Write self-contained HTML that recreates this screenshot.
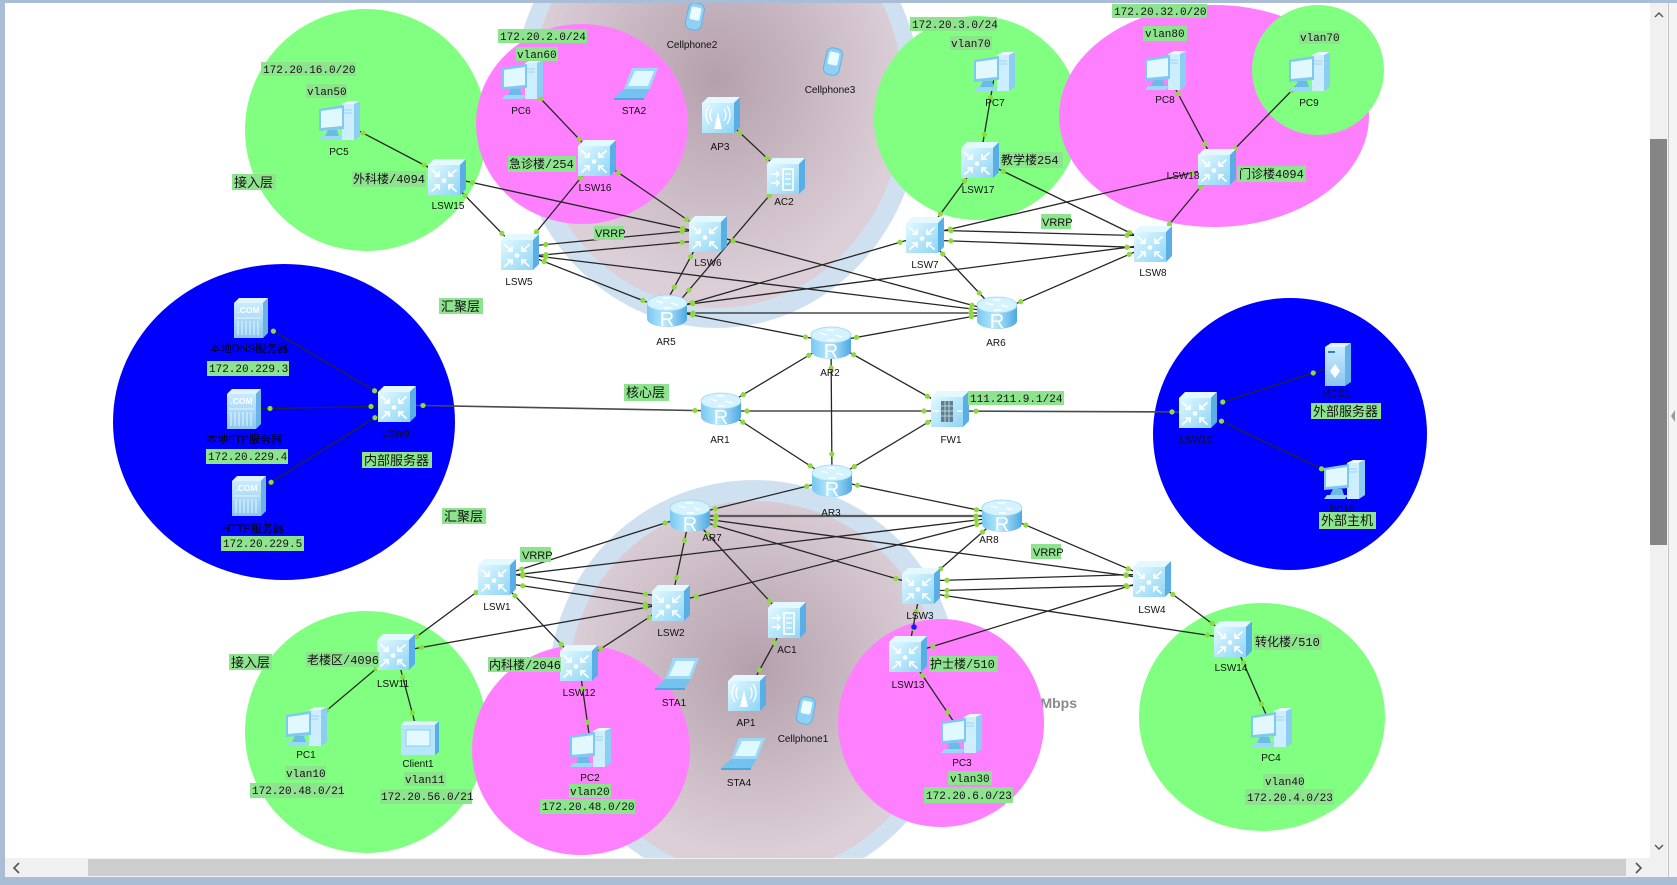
<!DOCTYPE html>
<html><head><meta charset="utf-8"><style>
html,body{margin:0;padding:0;background:#fff;width:1677px;height:885px;overflow:hidden}
svg{display:block}
.k{stroke:#262626;stroke-width:1.3;fill:none;marker-start:url(#ds);marker-end:url(#de)}
.n{font-family:"Liberation Sans",Arial,sans-serif;font-size:10px;fill:#111;text-anchor:middle}
.m{font-family:"Liberation Mono","Noto Sans CJK SC",monospace;font-size:11px;fill:#111}
.x{font-family:"Liberation Mono","Noto Sans CJK SC",monospace;font-size:12px;fill:#111}
.z{font-family:"Liberation Sans","Noto Sans CJK SC",sans-serif;font-size:13px;fill:#111}
.b{font-family:"Liberation Sans","Noto Sans CJK SC",sans-serif;font-size:11px;fill:#000;text-anchor:middle}
.v{font-family:"Liberation Sans",Arial,sans-serif;font-size:11px;fill:#111}
.g{fill:#8ee48e}
</style></head><body>
<svg width="1677" height="885" viewBox="0 0 1677 885" xmlns="http://www.w3.org/2000/svg">
<defs>
<marker id="ds" markerUnits="userSpaceOnUse" markerWidth="80" markerHeight="80" viewBox="-40 -40 80 80" refX="0" refY="0" orient="auto" overflow="visible"><circle cx="26" cy="0" r="2.6" fill="#8fd843"/></marker>
<marker id="de" markerUnits="userSpaceOnUse" markerWidth="80" markerHeight="80" viewBox="-40 -40 80 80" refX="0" refY="0" orient="auto" overflow="visible"><circle cx="-26" cy="0" r="2.6" fill="#8fd843"/></marker>
<radialGradient id="mv" cx=".5" cy=".45" r=".5"><stop offset="0" stop-color="#b4a0ac"/><stop offset="1" stop-color="#dccfd7"/></radialGradient>
<linearGradient id="gf" x1="0" y1="0" x2="1" y2="1"><stop offset="0" stop-color="#e2f9ff"/><stop offset="1" stop-color="#8ed5f5"/></linearGradient>
<linearGradient id="gr" x1="0" y1="0" x2="1" y2="0"><stop offset="0" stop-color="#78c8f1"/><stop offset=".45" stop-color="#b8e9fc"/><stop offset="1" stop-color="#4ea8e2"/></linearGradient>
<linearGradient id="gs" x1="0" y1="0" x2="0" y2="1"><stop offset="0" stop-color="#c9ebff"/><stop offset="1" stop-color="#8cc6ef"/></linearGradient>
<g id="cube">
<path d="M-19-12L-13-18H19L13-12Z" fill="#e3f9ff"/>
<path d="M13-12L19-18V12L13 18Z" fill="#5aaee6"/>
<rect x="-19" y="-12" width="32" height="30" fill="url(#gf)"/>
</g>
<g id="sw">
<use href="#cube"/>
<g stroke="#fff" stroke-width="1.8" fill="none" stroke-linecap="round">
<path d="M-15-7L-8-1M-8-5V-1H-12"/>
<path d="M9-7L2-1M2-5V-1H6"/>
<path d="M-15 14L-8 8M-8 12V8H-12"/>
<path d="M9 14L2 8M2 12V8H6"/>
</g>
<circle cx="-3" cy="3.5" r="2.3" fill="#fff"/>
</g>
<g id="rt">
<path d="M-20-7V9A20 8 0 0 0 20 9V-7Z" fill="url(#gr)"/>
<ellipse cx="0" cy="-7" rx="20" ry="8" fill="#d4f3ff" stroke="#9ad6f3" stroke-width=".8"/>
<path d="M-11-9L-4-7M11-5L4-7M-4-12H3M4-2H-3" stroke="#fff" stroke-width="1.4"/>
<text x="0" y="16" text-anchor="middle" font-family="Liberation Sans,sans-serif" font-size="20" fill="#fff">R</text>
</g>
<g id="pc">
<path d="M2-17L8-20H20L14-17Z" fill="#eafaff"/>
<path d="M14-17L20-20V15L14 19Z" fill="#8ccdf2"/>
<rect x="2" y="-17" width="12" height="36" fill="#cdeeff"/>
<path d="M4-11H12M4-8H12" stroke="#9bd3f3"/>
<path d="M-21-12L4-16V8L-21 10Z" fill="#7fc8f1"/>
<path d="M-19-10L2-13V5L-19 7Z" fill="#e2f8ff"/>
<path d="M-12 9H-3L-1 15H-15Z" fill="#6bbbe9"/>
<path d="M-18 15H3L0 19H-21Z" fill="#9dd7f6"/>
</g>
<g id="srv">
<path d="M-17-15L-12-20H17L12-15Z" fill="#dff4ff"/>
<path d="M12-15L17-20V15L12 20Z" fill="#6ab3e6"/>
<rect x="-17" y="-15" width="29" height="35" fill="url(#gs)"/>
<text x="-2.5" y="-5" text-anchor="middle" font-family="Liberation Sans,sans-serif" font-weight="bold" font-size="8.5" fill="#fff">.COM</text>
<path d="M-15 0H10M-13 3V17M-9 3V17M-5 3V17M-1 3V17M3 3V17M7 3V17" stroke="#e4f6ff" stroke-width="1"/>
</g>
<g id="ap">
<use href="#cube"/>
<path d="M-3-3L-7 14H1Z" fill="#fff"/>
<path d="M-9-6Q-13 0-9 6M-12-9Q-18 0-12 9M3-6Q7 0 3 6M6-9Q12 0 6 9" stroke="#fff" stroke-width="1.3" fill="none"/>
</g>
<g id="ac">
<use href="#cube"/>
<rect x="-3" y="-7" width="10" height="21" fill="none" stroke="#fff" stroke-width="1.6"/>
<path d="M-1-2H5M-1 3H5M-1 8H5" stroke="#fff" stroke-width="1.2"/>
<path d="M-15-2H-7M-10-5L-7-2-10 1M-15 7H-7M-10 4L-7 7-10 10" stroke="#fff" stroke-width="1.4" fill="none"/>
</g>
<g id="fw">
<use href="#cube"/>
<rect x="-9" y="-8" width="12" height="21" fill="#607f8e"/>
<path d="M-9-3H3M-9 2H3M-9 7H3M-5-8V13M-1-8V13" stroke="#cfe6ee" stroke-width=".8"/>
<path d="M-17 2H-11M7 2H12" stroke="#fff" stroke-width="1.4"/>
</g>
<g id="mcs">
<path d="M-13-18L-7-22H13L7-18Z" fill="#dff4ff"/>
<path d="M7-18L13-22V17L7 21Z" fill="#6ab3e6"/>
<rect x="-13" y="-18" width="20" height="39" fill="url(#gs)"/>
<rect x="-10" y="-14" width="7" height="2" fill="#3d7fb5"/>
<path d="M-3-1L-8 6-3 13 2 6Z" fill="#fff"/>
</g>
<g id="cli">
<path d="M-18-13L-14-17H20L16-13Z" fill="#dff4ff"/>
<path d="M16-13L20-17V14L16 17Z" fill="#5aaee6"/>
<rect x="-18" y="-13" width="34" height="30" rx="2" fill="#b7e6fb"/>
<rect x="-13" y="-8" width="24" height="16" fill="#e3f8ff" stroke="#8fd0f0"/>
</g>
<g id="lap">
<path d="M-4-16H22L14 5H-12Z" fill="#9dd8f6"/>
<path d="M-1-13H18L12 2H-8Z" fill="#e0f8ff"/>
<path d="M-12 5H14L8 14H-22Z" fill="#74c2ee"/>
<path d="M-22 14H8V16H-22Z" fill="#4fa5df"/>
</g>
<g id="cell"><g transform="rotate(12)">
<rect x="-8" y="-13" width="16" height="27" rx="6" fill="#8fd1f5" stroke="#5eb3e6"/>
<rect x="-5" y="-9" width="10" height="13" rx="2" fill="#eafcff"/>
</g></g>
</defs>

<rect x="0" y="0" width="1677" height="885" fill="#fff"/>

<!-- big wireless areas -->
<ellipse cx="717" cy="103" rx="205" ry="225" fill="#cfe1f1"/>
<ellipse cx="717" cy="100" rx="187" ry="208" fill="url(#mv)"/>
<circle cx="754" cy="685" r="205" fill="#cfe1f1"/>
<circle cx="754" cy="688" r="187" fill="url(#mv)"/>

<text x="1077" y="708" text-anchor="end" font-family="Liberation Sans,sans-serif" font-weight="bold" font-size="14" fill="#8a8a8a">1000Mbps</text>

<!-- areas -->
<circle cx="366" cy="130" r="121" fill="#80ff80"/>
<ellipse cx="582" cy="124" rx="106" ry="100" fill="#ff80ff"/>
<ellipse cx="977" cy="118" rx="103" ry="102" fill="#80ff80"/>
<ellipse cx="1214" cy="116" rx="155" ry="111" fill="#ff80ff"/>
<ellipse cx="1318" cy="70" rx="66" ry="65" fill="#80ff80"/>
<ellipse cx="284" cy="422" rx="171" ry="158" fill="#0000ff"/>
<ellipse cx="1290" cy="434" rx="137" ry="136" fill="#0000ff"/>
<circle cx="366" cy="732" r="121" fill="#80ff80"/>
<ellipse cx="581" cy="750" rx="109" ry="105" fill="#ff80ff"/>
<ellipse cx="941" cy="723" rx="103" ry="104" fill="#ff80ff"/>
<ellipse cx="1262" cy="717" rx="123" ry="114" fill="#80ff80"/>

<!-- links -->
<g>
<line class="k" x1="340" y1="121" x2="447" y2="177"/>
<line class="k" x1="447" y1="177" x2="520" y2="252"/>
<line class="k" x1="447" y1="177" x2="708" y2="234"/>
<line class="k" x1="523" y1="80" x2="597" y2="158"/>
<line class="k" x1="597" y1="158" x2="520" y2="252"/>
<line class="k" x1="597" y1="158" x2="708" y2="234"/>
<line class="k" x1="721" y1="115" x2="786" y2="176"/>
<line class="k" x1="786" y1="176" x2="672" y2="310"/>
<line class="k" x1="703" y1="234" x2="662" y2="310"/>
<line class="k" x1="520" y1="247" x2="708" y2="229"/>
<line class="k" x1="520" y1="257" x2="708" y2="240"/>
<line class="k" x1="520" y1="252" x2="667" y2="310"/>
<line class="k" x1="520" y1="254" x2="997" y2="312"/>
<line class="k" x1="708" y1="234" x2="997" y2="312"/>
<line class="k" x1="995" y1="72" x2="980" y2="160"/>
<line class="k" x1="980" y1="160" x2="925" y2="235"/>
<line class="k" x1="980" y1="160" x2="1153" y2="244"/>
<line class="k" x1="925" y1="230" x2="1153" y2="236"/>
<line class="k" x1="925" y1="240" x2="1153" y2="248"/>
<line class="k" x1="925" y1="235" x2="667" y2="310"/>
<line class="k" x1="925" y1="235" x2="997" y2="312"/>
<line class="k" x1="1217" y1="167" x2="925" y2="235"/>
<line class="k" x1="1217" y1="167" x2="1153" y2="244"/>
<line class="k" x1="1166" y1="71" x2="1217" y2="167"/>
<line class="k" x1="1310" y1="72" x2="1217" y2="167"/>
<line class="k" x1="1153" y1="244" x2="667" y2="307"/>
<line class="k" x1="1153" y1="244" x2="997" y2="312"/>
<line class="k" x1="667" y1="313" x2="997" y2="313"/>
<line class="k" x1="667" y1="310" x2="831" y2="342"/>
<line class="k" x1="997" y1="312" x2="831" y2="342"/>
<line class="k" x1="831" y1="342" x2="721" y2="408"/>
<line class="k" x1="831" y1="342" x2="950" y2="409"/>
<line class="k" x1="831" y1="342" x2="832" y2="480"/>
<line class="k" x1="721" y1="408" x2="832" y2="480"/>
<line class="k" x1="950" y1="409" x2="832" y2="480"/>
<line class="k" x1="721" y1="411" x2="950" y2="411"/>
<line class="k" x1="397" y1="405" x2="721" y2="411" style="stroke:#4a4a4a;stroke-width:1.6"/>
<line class="k" x1="950" y1="411" x2="1198" y2="412" style="stroke:#4a4a4a;stroke-width:1.6"/>
<line class="k" x1="251" y1="318" x2="397" y2="404"/>
<line class="k" x1="244" y1="409" x2="397" y2="406"/>
<line class="k" x1="249" y1="496" x2="397" y2="404"/>
<line class="k" x1="1198" y1="410" x2="1338" y2="365"/>
<line class="k" x1="1198" y1="410" x2="1345" y2="480"/>

<line class="k" x1="832" y1="480" x2="690" y2="515"/>
<line class="k" x1="832" y1="480" x2="1002" y2="515"/>
<line class="k" x1="690" y1="516" x2="1002" y2="516" style="stroke:#5a5a5a;stroke-width:2.2"/>
<line class="k" x1="690" y1="515" x2="497" y2="577"/>
<line class="k" x1="690" y1="515" x2="671" y2="603"/>
<line class="k" x1="690" y1="518" x2="921" y2="586"/>
<line class="k" x1="690" y1="517" x2="1152" y2="579"/>
<line class="k" x1="690" y1="515" x2="787" y2="620"/>
<line class="k" x1="1002" y1="517" x2="497" y2="577"/>
<line class="k" x1="1002" y1="518" x2="671" y2="603"/>
<line class="k" x1="1002" y1="515" x2="921" y2="586"/>
<line class="k" x1="1002" y1="515" x2="1152" y2="579"/>
<line class="k" x1="497" y1="572" x2="671" y2="598"/>
<line class="k" x1="497" y1="582" x2="671" y2="608"/>
<line class="k" x1="497" y1="577" x2="396" y2="652"/>
<line class="k" x1="497" y1="577" x2="579" y2="663"/>
<line class="k" x1="671" y1="603" x2="396" y2="652"/>
<line class="k" x1="671" y1="603" x2="579" y2="663"/>
<line class="k" x1="921" y1="581" x2="1152" y2="574"/>
<line class="k" x1="921" y1="591" x2="1152" y2="585"/>
<line class="k" x1="921" y1="586" x2="908" y2="654"/>
<line class="k" x1="921" y1="592" x2="1233" y2="639"/>
<line class="k" x1="1152" y1="579" x2="908" y2="654"/>
<line class="k" x1="1152" y1="579" x2="1233" y2="639"/>
<line class="k" x1="396" y1="652" x2="307" y2="727"/>
<line class="k" x1="396" y1="652" x2="419" y2="738"/>
<line class="k" x1="579" y1="663" x2="591" y2="748"/>
<line class="k" x1="787" y1="620" x2="747" y2="693"/>
<line class="k" x1="908" y1="654" x2="962" y2="734"/>
<line class="k" x1="1233" y1="639" x2="1272" y2="728"/>
</g>
<circle cx="914" cy="627" r="2.8" fill="#1a1aff"/>

<!-- devices -->
<use href="#pc" x="340" y="121"/>
<use href="#sw" x="447" y="177"/>
<use href="#sw" x="520" y="252"/>
<use href="#pc" x="523" y="80"/>
<use href="#lap" x="636" y="84"/>
<use href="#sw" x="597" y="158"/>
<use href="#cell" x="695" y="16"/>
<use href="#cell" x="833" y="61"/>
<use href="#ap" x="721" y="115"/>
<use href="#ac" x="786" y="176"/>
<use href="#sw" x="708" y="234"/>
<use href="#pc" x="995" y="72"/>
<use href="#sw" x="980" y="160"/>
<use href="#sw" x="925" y="235"/>
<use href="#pc" x="1166" y="71"/>
<use href="#pc" x="1310" y="72"/>
<use href="#sw" x="1217" y="167"/>
<use href="#sw" x="1153" y="244"/>
<use href="#rt" x="667" y="310"/>
<use href="#rt" x="997" y="312"/>
<use href="#rt" x="831" y="342"/>
<use href="#rt" x="721" y="408"/>
<use href="#fw" x="950" y="409"/>
<use href="#rt" x="832" y="480"/>
<use href="#rt" x="690" y="515"/>
<use href="#rt" x="1002" y="515"/>
<use href="#srv" x="251" y="318"/>
<use href="#srv" x="244" y="409"/>
<use href="#srv" x="249" y="496"/>
<use href="#sw" x="397" y="404"/>
<use href="#sw" x="1198" y="410"/>
<use href="#mcs" x="1338" y="365"/>
<use href="#pc" x="1345" y="480"/>
<use href="#sw" x="497" y="577"/>
<use href="#sw" x="671" y="603"/>
<use href="#sw" x="921" y="586"/>
<use href="#sw" x="1152" y="579"/>
<use href="#sw" x="396" y="652"/>
<use href="#pc" x="307" y="727"/>
<use href="#cli" x="419" y="738"/>
<use href="#sw" x="579" y="663"/>
<use href="#pc" x="591" y="748"/>
<use href="#lap" x="677" y="674"/>
<use href="#ap" x="747" y="693"/>
<use href="#ac" x="787" y="620"/>
<use href="#cell" x="806" y="710"/>
<use href="#lap" x="743" y="754"/>
<use href="#sw" x="908" y="654"/>
<use href="#pc" x="962" y="734"/>
<use href="#sw" x="1233" y="639"/>
<use href="#pc" x="1272" y="728"/>

<!-- device names -->
<text class="n" x="339" y="155">PC5</text>
<text class="n" x="448" y="209">LSW15</text>
<text class="n" x="519" y="285">LSW5</text>
<text class="n" x="521" y="114">PC6</text>
<text class="n" x="634" y="114">STA2</text>
<text class="n" x="595" y="191">LSW16</text>
<text class="n" x="692" y="48">Cellphone2</text>
<text class="n" x="830" y="93">Cellphone3</text>
<text class="n" x="720" y="150">AP3</text>
<text class="n" x="784" y="205">AC2</text>
<text class="n" x="708" y="266">LSW6</text>
<text class="n" x="995" y="106">PC7</text>
<text class="n" x="978" y="193">LSW17</text>
<text class="n" x="925" y="268">LSW7</text>
<text class="n" x="1165" y="103">PC8</text>
<text class="n" x="1309" y="106">PC9</text>
<text class="n" x="1183" y="179">LSW18</text>
<text class="n" x="1153" y="276">LSW8</text>
<text class="n" x="666" y="345">AR5</text>
<text class="n" x="996" y="346">AR6</text>
<text class="n" x="830" y="376">AR2</text>
<text class="n" x="720" y="443">AR1</text>
<text class="n" x="951" y="443">FW1</text>
<text class="n" x="831" y="516">AR3</text>
<text class="n" x="712" y="541">AR7</text>
<text class="n" x="989" y="543">AR8</text>
<text class="n" x="396" y="437">LSW9</text>
<text class="b" x="249" y="352">本地DNS服务器</text>
<text class="b" x="244" y="443">本地FTP服务器</text>
<text class="b" x="253" y="532">HTTP服务器</text>
<text class="n" x="1196" y="443">LSW10</text>
<text class="n" x="1336" y="397">MCS1</text>
<text class="n" x="1342" y="513">PC10</text>
<text class="n" x="497" y="610">LSW1</text>
<text class="n" x="671" y="636">LSW2</text>
<text class="n" x="920" y="619">LSW3</text>
<text class="n" x="1152" y="613">LSW4</text>
<text class="n" x="393" y="687">LSW11</text>
<text class="n" x="306" y="758">PC1</text>
<text class="n" x="418" y="767">Client1</text>
<text class="n" x="579" y="696">LSW12</text>
<text class="n" x="590" y="781">PC2</text>
<text class="n" x="674" y="706">STA1</text>
<text class="n" x="746" y="726">AP1</text>
<text class="n" x="787" y="653">AC1</text>
<text class="n" x="803" y="742">Cellphone1</text>
<text class="n" x="739" y="786">STA4</text>
<text class="n" x="908" y="688">LSW13</text>
<text class="n" x="962" y="766">PC3</text>
<text class="n" x="1231" y="671">LSW14</text>
<text class="n" x="1271" y="761">PC4</text>

<!-- green labels -->
<rect class="g" x="261" y="62" width="95" height="14"/><text class="m" x="263" y="73">172.20.16.0/20</text>
<rect class="g" x="306" y="84" width="41" height="14"/><text class="m" x="307" y="95">vlan50</text>
<rect class="g" x="498" y="29" width="89" height="14"/><text class="m" x="500" y="40">172.20.2.0/24</text>
<rect class="g" x="516" y="47" width="42" height="14"/><text class="m" x="517" y="58">vlan60</text>
<rect class="g" x="508" y="156" width="68" height="16"/><text class="x" x="509" y="168">急诊楼/254</text>
<rect class="g" x="352" y="171" width="74" height="16"/><text class="x" x="353" y="183">外科楼/4094</text>
<rect class="g" x="232" y="174" width="44" height="16"/><text class="z" x="234" y="187">接入层</text>
<rect class="g" x="910" y="17" width="87" height="14"/><text class="m" x="912" y="28">172.20.3.0/24</text>
<rect class="g" x="950" y="36" width="42" height="14"/><text class="m" x="951" y="47">vlan70</text>
<rect class="g" x="1000" y="152" width="63" height="16"/><text class="x" x="1001" y="164">教学楼254</text>
<rect class="g" x="1112" y="4" width="95" height="14"/><text class="m" x="1114" y="15">172.20.32.0/20</text>
<rect class="g" x="1143" y="26" width="44" height="15"/><text class="m" x="1145" y="37">vlan80</text>
<rect class="g" x="1299" y="31" width="41" height="13"/><text class="m" x="1300" y="41">vlan70</text>
<rect class="g" x="1237" y="166" width="69" height="16"/><text class="x" x="1239" y="178">门诊楼4094</text>
<rect class="g" x="594" y="226" width="30" height="14"/><text class="v" x="595" y="237">VRRP</text>
<rect class="g" x="1041" y="214" width="30" height="15"/><text class="v" x="1042" y="226">VRRP</text>
<rect class="g" x="439" y="298" width="44" height="16"/><text class="z" x="441" y="311">汇聚层</text>
<rect class="g" x="624" y="384" width="45" height="17"/><text class="z" x="626" y="397">核心层</text>
<rect class="g" x="968" y="391" width="96" height="14"/><text class="m" x="970" y="402">111.211.9.1/24</text>
<rect class="g" x="207" y="361" width="82" height="15"/><text class="m" x="209" y="372">172.20.229.3</text>
<rect class="g" x="206" y="449" width="82" height="15"/><text class="m" x="208" y="460">172.20.229.4</text>
<rect class="g" x="221" y="536" width="83" height="15"/><text class="m" x="223" y="547">172.20.229.5</text>
<rect class="g" x="362" y="452" width="70" height="16"/><text class="z" x="364" y="465">内部服务器</text>
<rect class="g" x="442" y="508" width="44" height="16"/><text class="z" x="444" y="521">汇聚层</text>
<rect class="g" x="520" y="547" width="31" height="15"/><text class="v" x="522" y="559">VRRP</text>
<rect class="g" x="1031" y="544" width="30" height="15"/><text class="v" x="1033" y="556">VRRP</text>
<rect class="g" x="1311" y="403" width="70" height="16"/><text class="z" x="1313" y="416">外部服务器</text>
<rect class="g" x="1319" y="512" width="57" height="17"/><text class="z" x="1321" y="525">外部主机</text>
<rect class="g" x="229" y="654" width="43" height="16"/><text class="z" x="231" y="667">接入层</text>
<rect class="g" x="306" y="652" width="73" height="15"/><text class="x" x="307" y="664">老楼区/4096</text>
<rect class="g" x="488" y="657" width="73" height="15"/><text class="x" x="489" y="669">内科楼/2046</text>
<rect class="g" x="285" y="766" width="41" height="14"/><text class="m" x="286" y="777">vlan10</text>
<rect class="g" x="250" y="783" width="93" height="15"/><text class="m" x="252" y="794">172.20.48.0/21</text>
<rect class="g" x="404" y="772" width="42" height="14"/><text class="m" x="405" y="783">vlan11</text>
<rect class="g" x="380" y="789" width="92" height="15"/><text class="m" x="381" y="800">172.20.56.0/21</text>
<rect class="g" x="569" y="784" width="42" height="14"/><text class="m" x="570" y="795">vlan20</text>
<rect class="g" x="540" y="799" width="95" height="15"/><text class="m" x="542" y="810">172.20.48.0/20</text>
<rect class="g" x="929" y="656" width="69" height="16"/><text class="x" x="930" y="668">护士楼/510</text>
<rect class="g" x="948" y="771" width="44" height="14"/><text class="m" x="950" y="782">vlan30</text>
<rect class="g" x="924" y="787" width="89" height="16"/><text class="m" x="926" y="799">172.20.6.0/23</text>
<rect class="g" x="1254" y="634" width="68" height="16"/><text class="x" x="1255" y="646">转化楼/510</text>
<rect class="g" x="1263" y="774" width="41" height="14"/><text class="m" x="1265" y="785">vlan40</text>
<rect class="g" x="1245" y="789" width="89" height="16"/><text class="m" x="1247" y="801">172.20.4.0/23</text>

<!-- window chrome -->
<rect x="1650" y="3" width="17" height="855" fill="#f0f0f0"/>
<rect x="1650" y="139" width="17" height="406" fill="#858585"/>
<path d="M1655 17L1659 13L1663 17M1655 845L1659 849L1663 845" stroke="#555" stroke-width="1.4" fill="none"/>
<rect x="1667" y="0" width="10" height="885" fill="#f4f4f4"/>
<rect x="1668" y="3" width="1" height="874" fill="#c4c4c4"/>
<path d="M1675 410L1671 416L1675 422Z" fill="#9a9a9a"/>
<rect x="5" y="858" width="1662" height="19" fill="#f0f0f0"/>
<rect x="88" y="859" width="1538" height="17" fill="#cdcdcd"/>
<path d="M19 863L14 868L19 873M1636 863L1641 868L1636 873" stroke="#555" stroke-width="1.6" fill="none"/>
<rect x="0" y="0" width="1677" height="3" fill="#a9bed4"/>
<rect x="0" y="0" width="5" height="885" fill="#a9bed4"/>
<rect x="0" y="877" width="1677" height="8" fill="#a9bed4"/>
</svg>
</body></html>
